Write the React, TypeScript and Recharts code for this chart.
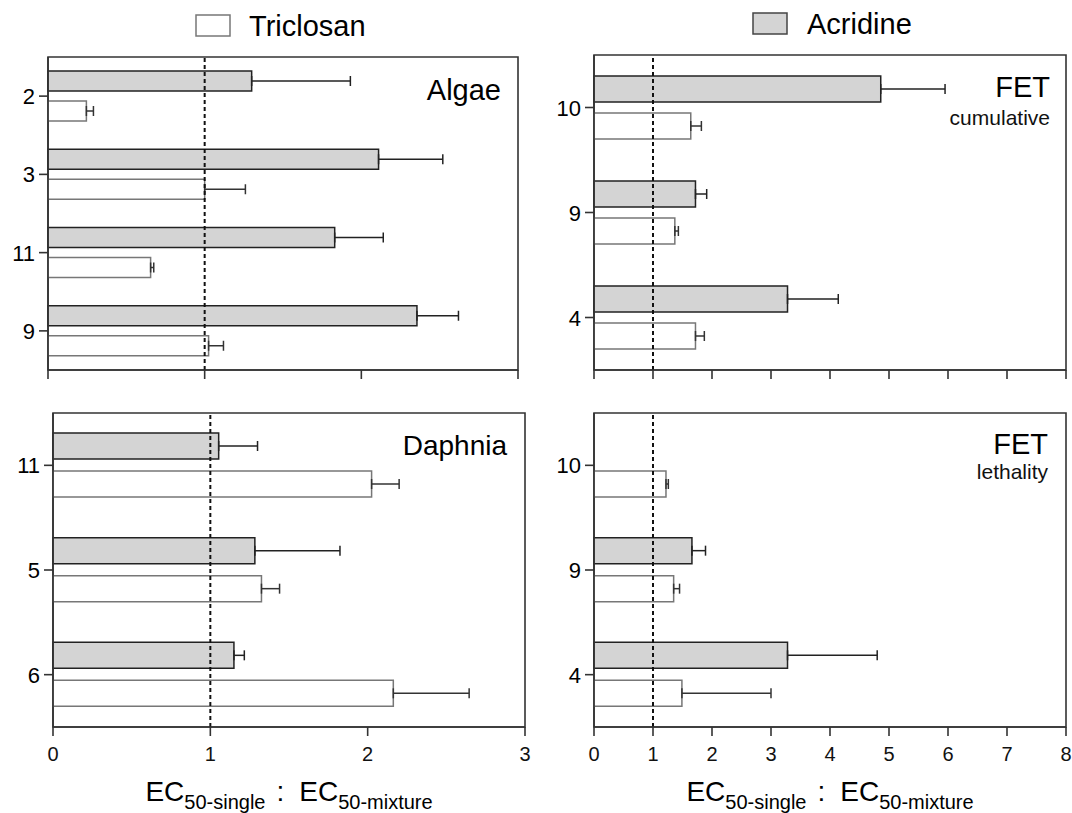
import React from 'react';
import { BarChart, Bar, XAxis, YAxis, ErrorBar, ReferenceLine, ReferenceArea } from 'recharts';

const FONT = '"Liberation Sans", Arial, Helvetica, sans-serif';

// ---- data ----
const algaeCategories = ['2', '3', '11', '9'];
const algaeAcridine = [1.3, 2.11, 1.83, 2.355];
const algaeAcridineErr = [0.63, 0.41, 0.31, 0.265];
const algaeTriclosan = [0.245, 1.0, 0.655, 1.025];
const algaeTriclosanErr = [0.045, 0.26, 0.02, 0.095];

const fetCumCategories = ['10', '9', '4'];
const fetCumAcridine = [4.86, 1.72, 3.28];
const fetCumAcridineErr = [1.09, 0.19, 0.86];
const fetCumTriclosan = [1.64, 1.37, 1.72];
const fetCumTriclosanErr = [0.18, 0.06, 0.15];

const daphniaCategories = ['11', '5', '6'];
const daphniaAcridine = [1.053, 1.283, 1.15];
const daphniaAcridineErr = [0.247, 0.541, 0.066];
const daphniaTriclosan = [2.025, 1.325, 2.163];
const daphniaTriclosanErr = [0.175, 0.115, 0.482];

const fetLetCategories = ['10', '9', '4'];
const fetLetAcridine: (number | null)[] = [null, 1.66, 3.28];
const fetLetAcridineErr: (number | null)[] = [null, 0.23, 1.52];
const fetLetTriclosan = [1.22, 1.35, 1.49];
const fetLetTriclosanErr = [0.04, 0.1, 1.51];

const ticksAlgaeDaphnia = [0, 1, 2, 3];
const ticksFet = [0, 1, 2, 3, 4, 5, 6, 7, 8];

const seriesNames = ['Triclosan', 'Acridine'];
const panelTitles = ['Algae', 'FET', 'Daphnia', 'FET'];
const panelSubtitles = ['cumulative', 'lethality'];

function buildRows(
  cats: string[],
  acr: (number | null)[],
  acrErr: (number | null)[],
  tri: number[],
  triErr: number[]
) {
  return cats.map((c, i) => ({
    cat: c,
    acridine: acr[i],
    acridineErr: acrErr[i] == null ? null : [0, acrErr[i] as number],
    triclosan: tri[i],
    triclosanErr: [0, triErr[i]],
  }));
}

const GRAY = '#d4d4d4';
const AXIS = '#333';
const INK = '#000';

function AxisTitle(props: any) {
  const vb = props.viewBox || {};
  const cx = vb.x + vb.width / 2;
  const y = vb.y + 74;
  return (
    <text x={cx} y={y} textAnchor="middle" fontFamily={FONT} fill={INK} fontSize={28}>
      <tspan>EC</tspan>
      <tspan fontSize={20} dy={8}>50-single</tspan>
      <tspan dy={-8} dx={11}>:</tspan>
      <tspan dx={15}>EC</tspan>
      <tspan fontSize={20} dy={8}>50-mixture</tspan>
    </text>
  );
}

function XTick(props: any) {
  const { x, y, payload } = props;
  return (
    <text x={x} y={y} dy={15} textAnchor="middle" fontSize={20} fontFamily={FONT} fill="#111">
      {payload.value}
    </text>
  );
}

function YTick(props: any) {
  const { x, y, payload } = props;
  return (
    <text x={x} y={y} dy={8} textAnchor="end" fontSize={22} fontFamily={FONT} fill={INK}>
      {payload.value}
    </text>
  );
}

type PanelProps = {
  left: number;
  top: number;
  width: number;
  height: number;
  margin: { top: number; right: number; bottom: number; left: number };
  yWidth: number;
  xHeight: number;
  max: number;
  ticks: number[];
  showTickLabels: boolean;
  barSize: number;
  barGap: number;
  rows: any[];
  showTitle: boolean;
};

function Panel(p: PanelProps) {
  return (
    <div style={{ position: 'absolute', left: p.left, top: p.top }}>
      <BarChart
        width={p.width}
        height={p.height}
        data={p.rows}
        layout="vertical"
        margin={p.margin}
        barSize={p.barSize}
        barGap={p.barGap}
      >
        <XAxis
          type="number"
          domain={[0, p.max]}
          ticks={p.ticks}
          interval={0}
          height={p.xHeight}
          stroke={AXIS}
          axisLine={{ stroke: AXIS, strokeWidth: 1.6 }}
          tickLine={{ stroke: AXIS, strokeWidth: 1.6 }}
          tickSize={9}
          tickMargin={10}
          tick={p.showTickLabels ? <XTick /> : () => <g />}
          label={p.showTitle ? { content: (lp: any) => <AxisTitle {...lp} /> } : undefined}
        />
        <YAxis
          type="category"
          dataKey="cat"
          width={p.yWidth}
          axisLine={{ stroke: AXIS, strokeWidth: 1.6 }}
          tickLine={{ stroke: AXIS, strokeWidth: 1.6 }}
          tickSize={9}
          tickMargin={4}
          tick={<YTick />}
        />
        <ReferenceArea
          x1={0}
          x2={p.max}
          fill="none"
          stroke={AXIS}
          strokeWidth={1.6}
          ifOverflow="visible"
        />
        <Bar dataKey="acridine" fill={GRAY} stroke="#222" strokeWidth={1.5} isAnimationActive={false}>
          <ErrorBar dataKey="acridineErr" direction="x" width={5} stroke="#222" strokeWidth={1.5} />
        </Bar>
        <Bar dataKey="triclosan" fill="#ffffff" stroke="#777" strokeWidth={1.5} isAnimationActive={false}>
          <ErrorBar dataKey="triclosanErr" direction="x" width={5} stroke="#333" strokeWidth={1.5} />
        </Bar>
        <ReferenceLine x={1} stroke="#111" strokeWidth={2} strokeDasharray="4 3" ifOverflow="visible" />
      </BarChart>
    </div>
  );
}

export default function App() {
  const algaeRows = buildRows(algaeCategories, algaeAcridine, algaeAcridineErr, algaeTriclosan, algaeTriclosanErr);
  const fetCumRows = buildRows(fetCumCategories, fetCumAcridine, fetCumAcridineErr, fetCumTriclosan, fetCumTriclosanErr);
  const daphniaRows = buildRows(daphniaCategories, daphniaAcridine, daphniaAcridineErr, daphniaTriclosan, daphniaTriclosanErr);
  const fetLetRows = buildRows(fetLetCategories, fetLetAcridine, fetLetAcridineErr, fetLetTriclosan, fetLetTriclosanErr);

  return (
    <div
      style={{
        position: 'absolute',
        left: 0,
        top: 0,
        width: 1072,
        height: 813,
        background: '#fff',
        fontFamily: FONT,
        overflow: 'hidden',
      }}
    >
      <Panel
        left={0}
        top={0}
        width={530}
        height={400}
        margin={{ top: 57, right: 12, bottom: 10, left: 0 }}
        yWidth={48}
        xHeight={20}
        max={3}
        ticks={ticksAlgaeDaphnia}
        showTickLabels={false}
        barSize={20}
        barGap={10}
        rows={algaeRows}
        showTitle={false}
      />
      <Panel
        left={540}
        top={0}
        width={532}
        height={400}
        margin={{ top: 55, right: 6, bottom: 10, left: 0 }}
        yWidth={54}
        xHeight={20}
        max={8}
        ticks={ticksFet}
        showTickLabels={false}
        barSize={26}
        barGap={11}
        rows={fetCumRows}
        showTitle={false}
      />
      <Panel
        left={0}
        top={400}
        width={540}
        height={413}
        margin={{ top: 13, right: 15, bottom: 46, left: 0 }}
        yWidth={53}
        xHeight={40}
        max={3}
        ticks={ticksAlgaeDaphnia}
        showTickLabels={true}
        barSize={26}
        barGap={12}
        rows={daphniaRows}
        showTitle={true}
      />
      <Panel
        left={540}
        top={400}
        width={532}
        height={413}
        margin={{ top: 13, right: 6, bottom: 46, left: 0 }}
        yWidth={54}
        xHeight={40}
        max={8}
        ticks={ticksFet}
        showTickLabels={true}
        barSize={26}
        barGap={12}
        rows={fetLetRows}
        showTitle={true}
      />
      <svg
        width={1072}
        height={813}
        style={{ position: 'absolute', left: 0, top: 0, pointerEvents: 'none' }}
      >
        {/* legend */}
        <rect x={196} y={15} width={34} height={21} fill="#fff" stroke="#777" strokeWidth={1.5} />
        <text x={249} y={36} fontSize={29} fontFamily={FONT} fill={INK}>{seriesNames[0]}</text>
        <rect x={753} y={13} width={34} height={21} fill={GRAY} stroke="#444" strokeWidth={1.5} />
        <text x={807} y={34} fontSize={29} fontFamily={FONT} fill={INK}>{seriesNames[1]}</text>
        {/* panel labels */}
        <text x={501} y={100} fontSize={29} textAnchor="end" fontFamily={FONT} fill={INK}>{panelTitles[0]}</text>
        <text x={1050} y={97} fontSize={29} textAnchor="end" fontFamily={FONT} fill={INK}>{panelTitles[1]}</text>
        <text x={1050} y={125} fontSize={21} textAnchor="end" fontFamily={FONT} fill="#111">{panelSubtitles[0]}</text>
        <text x={507} y={455} fontSize={28} textAnchor="end" fontFamily={FONT} fill={INK}>{panelTitles[2]}</text>
        <text x={1048} y={454} fontSize={29} textAnchor="end" fontFamily={FONT} fill={INK}>{panelTitles[3]}</text>
        <text x={1048} y={479} fontSize={21} textAnchor="end" fontFamily={FONT} fill="#111">{panelSubtitles[1]}</text>
      </svg>
    </div>
  );
}
